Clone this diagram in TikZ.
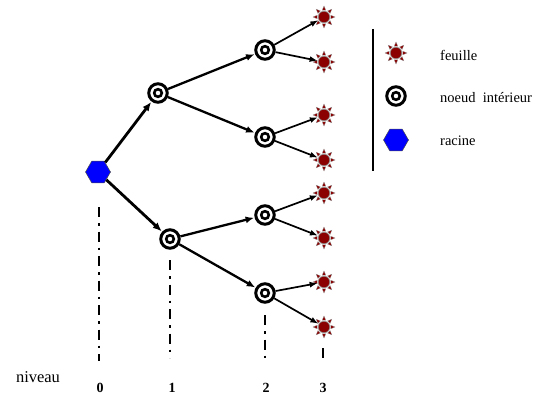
\documentclass[tikz,border=0pt]{standalone}
\usepackage{fontspec}
\setmainfont{Liberation Serif}
\usetikzlibrary{shapes.geometric,arrows.meta}
\definecolor{leafred}{HTML}{8B0000}
\definecolor{hexblue}{HTML}{0000FF}
\tikzset{
  root/.style={regular polygon, regular polygon sides=6, minimum size=25pt, inner sep=0pt,
    fill=hexblue, draw=black!70, line width=0.5pt},
  inner/.style={circle, minimum size=18.5pt, inner sep=0pt, draw=black, line width=3pt, fill=white,
    path picture={\draw[line width=2.6pt] (path picture bounding box.center) circle (3.8pt);}},
  leaf/.style={circle, minimum size=11.5pt, inner sep=0pt, fill=leafred, draw=black!45, line width=0.5pt},
  ray/.style={fill=leafred, draw=black!40, line width=0.3pt},
  arr1/.style={line width=2.8pt, -{Latex[length=9pt,width=7.5pt]}, shorten >=0.5pt},
  arr2/.style={line width=2.3pt, -{Latex[length=8.5pt,width=7pt]}, shorten >=0.5pt},
  arr3/.style={line width=1.7pt, -{Latex[length=8pt,width=6pt]}, shorten >=0.5pt},
  level/.style={line width=2.6pt, dash pattern=on 10pt off 6pt on 2.5pt off 6pt},
  lbl/.style={font=\fontsize{14.5}{16}\selectfont, inner sep=0pt},
  num/.style={font=\fontsize{14}{16}\selectfont\bfseries, inner sep=0pt}
}
\begin{document}
\begin{tikzpicture}[x=1pt,y=-1pt]
\useasboundingbox (0,0) rectangle (559,396);
% tree
\node[root] (r) at (98,172) {};
\node[inner] (a) at (158,93) {};
\node[inner] (b) at (170,239) {};
\node[inner] (c) at (265,50) {};
\node[inner] (d) at (265,137) {};
\node[inner] (e) at (265,215) {};
\node[inner] (f) at (265,293) {};
\node[leaf] (l1) at (324,17) {};
\node[leaf] (l2) at (324,62) {};
\node[leaf] (l3) at (324,115) {};
\node[leaf] (l4) at (324,160) {};
\node[leaf] (l5) at (324,193) {};
\node[leaf] (l6) at (324,238) {};
\node[leaf] (l7) at (324,282) {};
\node[leaf] (l8) at (324,327) {};
% legend
\node[leaf] (kl) at (396,53) {};
\node[inner] (ki) at (396,96) {};
\node[root] (kr) at (396,140) {};
\node[lbl, anchor=west] (tl) at (440,55) {feuille};
\node[lbl, anchor=west] (ti) at (440,98) {noeud\ \ intérieur};
\node[lbl, anchor=west] (tr) at (440,141) {racine};
\coordinate (kt) at (373,29);
\coordinate (kb) at (373,171);
\draw[line width=2pt] (kt) -- (kb);
% rays of the leaves
\foreach \n in {l1,l2,l3,l4,l5,l6,l7,l8,kl}{
  \foreach \a in {0,45,...,315}{
    \begin{scope}[shift={(\n.center)}, rotate=\a]
      \filldraw[ray] (6.8,-1.8) -- (11,0) -- (6.8,1.8) -- cycle;
    \end{scope}
  }
}
% connectors
\draw[arr1] (r) -- (a);
\draw[arr1] (r) -- (b);
\draw[arr2] (a) -- (c);
\draw[arr2] (a) -- (d);
\draw[arr2] (b) -- (e);
\draw[arr2] (b) -- (f);
\draw[arr3] (c) -- (l1);
\draw[arr3] (c) -- (l2);
\draw[arr3] (d) -- (l3);
\draw[arr3] (d) -- (l4);
\draw[arr3] (e) -- (l5);
\draw[arr3] (e) -- (l6);
\draw[arr3] (f) -- (l7);
\draw[arr3] (f) -- (l8);
% level lines
\coordinate (v0t) at (99,207);  \coordinate (v0b) at (99,361);
\coordinate (v1t) at (170,260); \coordinate (v1b) at (170,358);
\coordinate (v2t) at (265,315); \coordinate (v2b) at (265,358);
\coordinate (v3t) at (323,348); \coordinate (v3b) at (323,358);
\draw[level] (v0t) -- (v0b);
\draw[level] (v1t) -- (v1b);
\draw[level] (v2t) -- (v2b);
\draw[level] (v3t) -- (v3b);
% labels
\node[lbl, font=\fontsize{16.5}{18}\selectfont] (niv) at (38,377) {niveau};
\node[num] (n0) at (100,388) {0};
\node[num] (n1) at (172,388) {1};
\node[num] (n2) at (266,388) {2};
\node[num] (n3) at (323,388) {3};
\end{tikzpicture}
\end{document}
